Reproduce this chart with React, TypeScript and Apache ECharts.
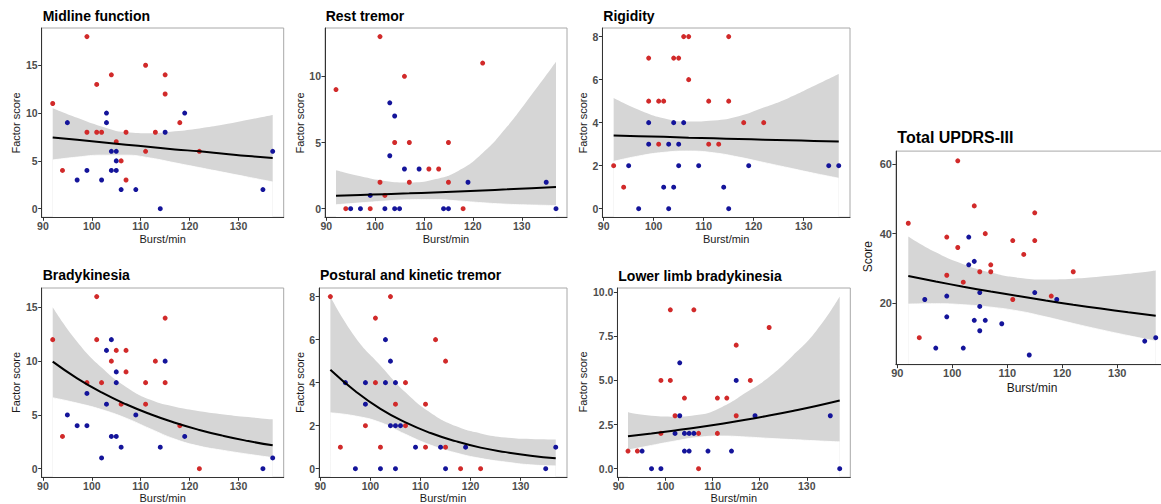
import React, { useEffect, useRef } from "react";
import * as echarts from "echarts";

// ---------- shared ----------
const X_TICKS = [90, 100, 110, 120, 130];
const FIT_X = [92, 97, 102, 107, 112, 117, 122, 127, 132, 137];

// ---------- Midline function ----------
const midRed = [[92, 11], [94, 4], [99, 18], [99, 8], [101, 13], [101, 8], [102, 8], [104, 14], [105, 7], [106, 5], [107, 8], [107, 3], [111, 15], [111, 6], [113, 8], [115, 14], [115, 12], [118, 9], [122, 6]];
const midBlue = [[95, 9], [97, 3], [99, 4], [102, 3], [103, 10], [103, 9], [104, 6], [104, 4], [105, 6], [105, 5], [105, 4], [106, 2], [109, 2], [114, 0], [115, 8], [119, 10], [135, 2], [137, 6]];
const midFit = [7.45, 7.2, 6.95, 6.7, 6.45, 6.2, 6.0, 5.75, 5.5, 5.3];
const midUpper = [10.5, 9.5, 8.6, 8.0, 7.9, 8.1, 8.4, 8.8, 9.3, 9.8];
const midLower = [5.1, 5.4, 5.6, 5.6, 5.3, 4.8, 4.3, 3.8, 3.3, 2.8];
const midYTicks = [0, 5, 10, 15];

// ---------- Rest tremor ----------
const restRed = [[92, 9], [94, 0], [99, 0], [101, 13], [101, 2], [102, 1], [104, 5], [106, 10], [107, 5], [107, 2], [111, 3], [113, 3], [115, 5], [115, 2], [118, 0], [122, 11]];
const restBlue = [[95, 0], [97, 0], [99, 1], [102, 0], [103, 8], [103, 4], [104, 7], [104, 0], [105, 0], [106, 3], [109, 3], [114, 0], [115, 0], [119, 2], [135, 2], [137, 0]];
const restFit = [0.98, 1.04, 1.1, 1.16, 1.23, 1.3, 1.38, 1.46, 1.55, 1.64];
const restUpper = [2.9, 2.45, 2.1, 1.98, 2.2, 2.85, 4.2, 6.2, 8.6, 11.1];
const restLower = [0.3, 0.44, 0.58, 0.68, 0.69, 0.59, 0.45, 0.34, 0.28, 0.24];
const restYTicks = [0, 5, 10];

// ---------- Rigidity ----------
const rigRed = [[92, 2], [94, 1], [99, 7], [99, 5], [101, 5], [102, 5], [101, 3], [104, 7], [105, 7], [106, 8], [107, 8], [107, 6], [111, 5], [111, 3], [113, 3], [115, 8], [115, 5], [118, 4], [122, 4]];
const rigBlue = [[95, 2], [97, 0], [99, 4], [99, 3], [102, 1], [103, 3], [103, 0], [104, 4], [104, 1], [105, 3], [105, 2], [106, 4], [109, 2], [114, 1], [115, 0], [119, 2], [135, 2], [137, 2]];
const rigFit = [3.4, 3.37, 3.34, 3.3, 3.27, 3.24, 3.21, 3.18, 3.15, 3.12];
const rigUpper = [5.15, 4.6, 4.2, 4.05, 4.1, 4.3, 4.7, 5.15, 5.7, 6.26];
const rigLower = [2.2, 2.45, 2.62, 2.68, 2.6, 2.4, 2.15, 1.9, 1.65, 1.42];
const rigYTicks = [0, 2, 4, 6, 8];

// ---------- Total UPDRS-III ----------
const totRed = [[92, 43], [94, 10], [99, 39], [99, 28], [101, 61], [101, 36], [102, 26], [104, 48], [105, 29], [106, 40], [107, 31], [107, 29], [111, 38], [111, 21], [113, 34], [115, 46], [115, 38], [118, 22], [122, 29]];
const totBlue = [[95, 21], [97, 7], [99, 22], [99, 16], [102, 7], [103, 39], [103, 31], [104, 32], [104, 15], [105, 23], [105, 19], [105, 12], [106, 15], [109, 14], [114, 5], [115, 23], [119, 21], [135, 9], [137, 10]];
const totFit = [27.8, 26.2, 24.7, 23.3, 22.0, 20.7, 19.5, 18.4, 17.3, 16.3];
const totUpper = [39.2, 34.6, 31.2, 28.8, 27.3, 26.8, 27.0, 27.6, 28.4, 29.4];
const totLower = [19.7, 19.8, 19.5, 18.8, 17.7, 16.0, 14.1, 12.3, 10.6, 9.0];
const totYTicks = [20, 40, 60];

// ---------- Bradykinesia ----------
const bradyRed = [[92, 12], [94, 3], [99, 8], [101, 16], [101, 12], [102, 8], [104, 10], [105, 11], [106, 6], [107, 11], [107, 9], [111, 8], [111, 6], [113, 10], [115, 14], [115, 8], [118, 4], [122, 0]];
const bradyBlue = [[95, 5], [97, 4], [99, 7], [99, 4], [102, 1], [103, 11], [103, 6], [104, 12], [104, 3], [105, 9], [105, 8], [105, 3], [106, 2], [109, 5], [114, 2], [115, 10], [119, 3], [135, 0], [137, 1]];
const bradyFit = [9.95, 8.4, 7.09, 5.99, 5.06, 4.27, 3.6, 3.04, 2.57, 2.17];
const bradyUpper = [15.0, 11.8, 9.4, 7.6, 6.4, 5.75, 5.35, 5.05, 4.8, 4.59];
const bradyLower = [6.6, 6.1, 5.5, 4.7, 3.7, 2.75, 2.1, 1.7, 1.35, 1.03];
const bradyYTicks = [0, 5, 10, 15];

// ---------- Postural and kinetic tremor ----------
const postRed = [[92, 8], [94, 1], [99, 2], [101, 7], [101, 4], [102, 1], [104, 8], [105, 3], [107, 4], [107, 2], [111, 3], [111, 1], [113, 6], [115, 5], [115, 1], [118, 0], [122, 0]];
const postBlue = [[95, 4], [97, 0], [99, 4], [99, 3], [102, 0], [103, 6], [103, 4], [104, 5], [104, 2], [105, 4], [105, 2], [105, 0], [106, 2], [109, 1], [114, 1], [115, 0], [119, 1], [135, 0], [137, 1]];
const postFit = [4.6, 3.6, 2.78, 2.15, 1.66, 1.28, 0.98, 0.77, 0.6, 0.48];
const postUpper = [8.0, 6.1, 4.8, 3.55, 2.6, 1.98, 1.64, 1.45, 1.38, 1.36];
const postLower = [2.6, 2.45, 2.15, 1.6, 1.1, 0.74, 0.48, 0.31, 0.18, 0.13];
const postYTicks = [0, 2, 4, 6, 8];

// ---------- Lower limb bradykinesia ----------
const llbRed = [[92, 1], [94, 1], [99, 5], [99, 2], [101, 9], [101, 5], [102, 3], [104, 4], [106, 9], [107, 2], [107, 0], [111, 4], [111, 2], [113, 4], [115, 7], [115, 3], [118, 5], [122, 8]];
const llbBlue = [[95, 1], [97, 0], [99, 0], [102, 2], [103, 6], [103, 3], [104, 2], [104, 1], [105, 2], [105, 1], [106, 2], [109, 1], [114, 1], [115, 5], [119, 3], [135, 3], [137, 0]];
const llbFit = [1.84, 2.0, 2.17, 2.35, 2.55, 2.77, 3.01, 3.27, 3.55, 3.86];
const llbUpper = [3.2, 3.0, 2.95, 3.05, 3.5, 4.3, 5.2, 6.4, 7.8, 9.75];
const llbLower = [1.06, 1.32, 1.57, 1.78, 1.85, 1.8, 1.72, 1.65, 1.58, 1.52];
const llbYTicks = [0, 2.5, 5, 7.5, 10];

// ---------- panels ----------
const panels = [
  { title: "Midline function", yName: "Factor score", red: midRed, blue: midBlue, fit: midFit, upper: midUpper, lower: midLower, yTicks: midYTicks, yMin: -0.9, yMax: 18.9, decimals: 0 },
  { title: "Rest tremor", yName: "Factor score", red: restRed, blue: restBlue, fit: restFit, upper: restUpper, lower: restLower, yTicks: restYTicks, yMin: -0.65, yMax: 13.65, decimals: 0 },
  { title: "Rigidity", yName: "Factor score", red: rigRed, blue: rigBlue, fit: rigFit, upper: rigUpper, lower: rigLower, yTicks: rigYTicks, yMin: -0.4, yMax: 8.4, decimals: 0 },
  { title: "Total UPDRS-III", yName: "Score", red: totRed, blue: totBlue, fit: totFit, upper: totUpper, lower: totLower, yTicks: totYTicks, yMin: 2.2, yMax: 63.8, decimals: 0 },
  { title: "Bradykinesia", yName: "Factor score", red: bradyRed, blue: bradyBlue, fit: bradyFit, upper: bradyUpper, lower: bradyLower, yTicks: bradyYTicks, yMin: -0.8, yMax: 16.8, decimals: 0 },
  { title: "Postural and kinetic tremor", yName: "Factor score", red: postRed, blue: postBlue, fit: postFit, upper: postUpper, lower: postLower, yTicks: postYTicks, yMin: -0.4, yMax: 8.4, decimals: 0 },
  { title: "Lower limb bradykinesia", yName: "Factor score", red: llbRed, blue: llbBlue, fit: llbFit, upper: llbUpper, lower: llbLower, yTicks: llbYTicks, yMin: -0.4875, yMax: 10.2375, decimals: 1 },
];

// layout (pixels): grid box, title baseline, axis-name positions
const layout = [
  { l: 41.7, t: 28, w: 242, h: 189.3, tx: 42.7, ty: 20.7, ts: 14, yx: 16, yy: 123, xy: 239.3, fs: 10.5, ns: 11 },
  { l: 325, t: 28, w: 242, h: 189.3, tx: 325.7, ty: 20.7, ts: 14, yx: 300, yy: 123, xy: 239.3, fs: 10.5, ns: 11 },
  { l: 602.4, t: 28, w: 247.6, h: 189.3, tx: 603.3, ty: 20.7, ts: 14, yx: 582.7, yy: 123, xy: 239.3, fs: 10.5, ns: 11 },
  { l: 895.9, t: 151.1, w: 272.2, h: 213.6, tx: 897.3, ty: 142.7, ts: 16, yx: 868.3, yy: 256.7, xy: 387.7, fs: 11, ns: 12 },
  { l: 41.7, t: 288, w: 242, h: 189.3, tx: 42.7, ty: 280, ts: 14, yx: 16, yy: 382.5, xy: 497.5, fs: 10.5, ns: 11 },
  { l: 319.1, t: 288, w: 247.9, h: 189.3, tx: 320, ty: 280, ts: 14, yx: 300, yy: 382.5, xy: 497.5, fs: 10.5, ns: 11 },
  { l: 617.4, t: 288, w: 232.9, h: 189.3, tx: 618.3, ty: 281, ts: 14, yx: 582.7, yy: 382, xy: 497.5, fs: 10.5, ns: 11 },
];

const FONT = "'Liberation Sans', Arial, Helvetica, sans-serif";
const RED = "#d12a2a";
const BLUE = "#14149a";
const RIBBON = "#d6d6d6";
const AXIS = "#333333";
const TICKTXT = "#4d4d4d";

function buildOption() {
  const grid: any[] = [];
  const xAxis: any[] = [];
  const yAxis: any[] = [];
  const series: any[] = [];
  const graphic: any[] = [];

  panels.forEach((p, i) => {
    const L = layout[i];
    grid.push({ left: L.l, top: L.t, width: L.w, height: L.h, show: true, borderColor: "#a8a8a8", borderWidth: 1, backgroundColor: "#fff", containLabel: false, outerBoundsMode: "none" });
    const labelStyle = { color: TICKTXT, fontSize: L.fs, fontWeight: "bold", fontFamily: FONT };
    xAxis.push({
      gridIndex: i, type: "value", min: 89.75, max: 139.25, z: 6,
      axisLine: { show: true, onZero: false, lineStyle: { color: AXIS, width: 1 } },
      axisTick: { show: true, length: 3.5, lineStyle: { color: AXIS, width: 1 }, customValues: X_TICKS },
      axisLabel: { ...labelStyle, margin: 3, customValues: X_TICKS },
      splitLine: { show: false },
    });
    yAxis.push({
      gridIndex: i, type: "value", min: p.yMin, max: p.yMax, z: 6,
      axisLine: { show: true, onZero: false, lineStyle: { color: AXIS, width: 1 } },
      axisTick: { show: true, length: 3.5, lineStyle: { color: AXIS, width: 1 }, customValues: p.yTicks },
      axisLabel: { ...labelStyle, margin: 4, customValues: p.yTicks, formatter: (v: number) => v.toFixed(p.decimals) },
      splitLine: { show: false },
    });
    // ribbon: grey area under the upper bound, then white area under the lower bound
    series.push({
      type: "line", xAxisIndex: i, yAxisIndex: i, z: 1, smooth: true, symbol: "none", silent: true,
      lineStyle: { width: 0, opacity: 0 }, areaStyle: { color: RIBBON, opacity: 1, origin: "start" },
      data: FIT_X.map((x, k) => [x, p.upper[k]]),
    });
    series.push({
      type: "line", xAxisIndex: i, yAxisIndex: i, z: 2, smooth: true, symbol: "none", silent: true,
      lineStyle: { width: 0.8, color: "#ffffff", opacity: 1 }, areaStyle: { color: "#ffffff", opacity: 1, origin: "start" },
      data: FIT_X.map((x, k) => [x, p.lower[k]]),
    });
    series.push({
      type: "scatter", xAxisIndex: i, yAxisIndex: i, z: 3, symbolSize: 5, itemStyle: { color: RED, opacity: 1 }, data: p.red,
    });
    series.push({
      type: "scatter", xAxisIndex: i, yAxisIndex: i, z: 3, symbolSize: 5, itemStyle: { color: BLUE, opacity: 1 }, data: p.blue,
    });
    series.push({
      type: "line", xAxisIndex: i, yAxisIndex: i, z: 4, smooth: true, symbol: "none", silent: true,
      lineStyle: { color: "#000", width: 2 }, data: FIT_X.map((x, k) => [x, p.fit[k]]),
    });

    graphic.push({
      type: "text", x: L.tx, y: L.ty - 0.35 * L.ts, silent: true,
      style: { text: p.title, fill: "#000", font: `bold ${L.ts}px ${FONT}`, textAlign: "left", textVerticalAlign: "middle" },
    });
    graphic.push({
      type: "text", x: L.yx, y: L.yy, rotation: Math.PI / 2, silent: true,
      style: { text: p.yName, fill: "#1a1a1a", font: `${L.ns}px ${FONT}`, textAlign: "center", textVerticalAlign: "middle" },
    });
    graphic.push({
      type: "text", x: L.l + L.w / 2, y: L.xy, silent: true,
      style: { text: "Burst/min", fill: "#1a1a1a", font: `${L.ns}px ${FONT}`, textAlign: "center", textVerticalAlign: "middle" },
    });
  });

  return {
    animation: false,
    backgroundColor: "#fff",
    textStyle: { fontFamily: FONT },
    grid, xAxis, yAxis, series, graphic,
  };
}

export default function App() {
  const ref = useRef<HTMLDivElement>(null);
  useEffect(() => {
    const chart = echarts.init(ref.current!, null, { renderer: "svg" });
    chart.setOption(buildOption() as any);
    return () => chart.dispose();
  }, []);
  return (
    <div
      ref={ref}
      style={{ position: "absolute", left: 0, top: 0, width: 1161, height: 504, background: "#fff" }}
    />
  );
}
